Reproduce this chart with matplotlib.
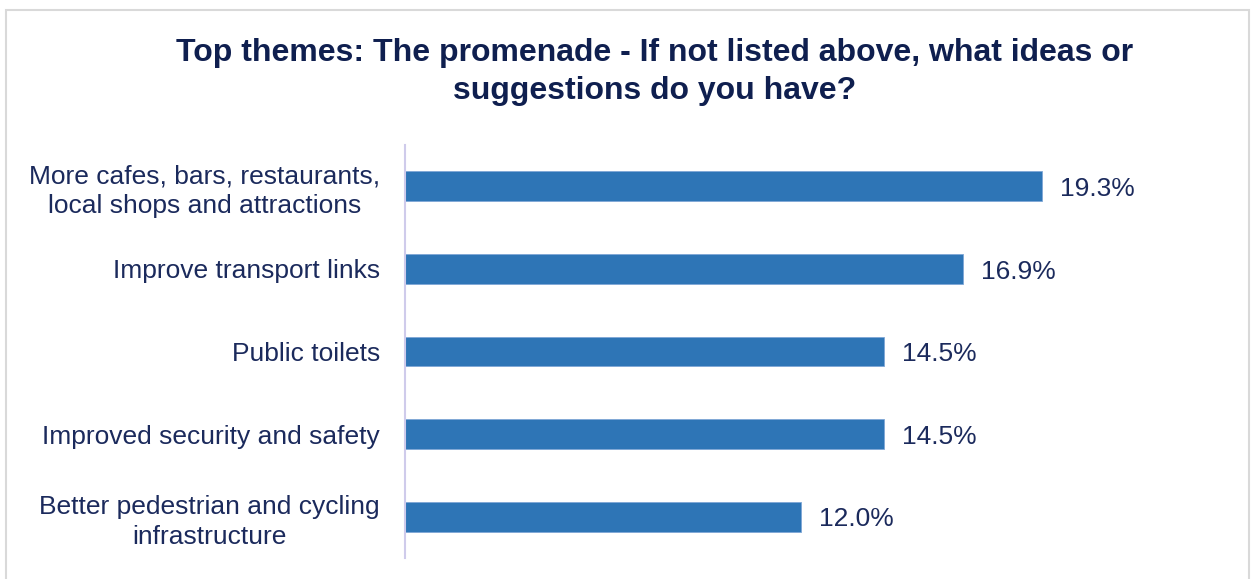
import matplotlib.pyplot as plt
from matplotlib.patches import Rectangle

plt.rcParams['font.family'] = ['Liberation Sans', 'DejaVu Sans']

themes = [
    "More cafes, bars, restaurants,\nlocal shops and attractions",
    "Improve transport links",
    "Public toilets",
    "Improved security and safety",
    "Better pedestrian and cycling\ninfrastructure",
]
shares = [19.3, 16.9, 14.5, 14.5, 12.0]

navy = '#1B2A5C'
bar_color = '#2E75B6'

W, H = 1255, 579
fig = plt.figure(figsize=(W / 100, H / 100), dpi=100)

# chart area border
fig.patches.append(Rectangle((6 / W, -0.01), 1243 / W, (H - 10) / H + 0.01,
                             transform=fig.transFigure, fill=False,
                             edgecolor='#D9D9D9', linewidth=1.5))

ax = fig.add_axes([405 / W, 1 - 558 / H, 840 / W, (558 - 145) / H])
pos = list(range(len(themes)))
ax.barh(pos, shares, height=0.36, color=bar_color, edgecolor='#7FA7D6', linewidth=0.6)
ax.set_ylim(len(themes) - 0.5, -0.5)
ax.set_xlim(0, 840 / 33)

for y, v in zip(pos, shares):
    ax.annotate(f"{v:.1f}%", (v, y), xytext=(13, -2), textcoords='offset points',
                va='center', ha='left', fontsize=19, color=navy)

ax.set_yticks(pos)
ax.set_yticklabels(themes, fontsize=19, color=navy, multialignment='center',
                   linespacing=1.3)
ax.tick_params(axis='y', length=0, pad=18)
ax.set_xticks([])
for s in ['top', 'right', 'bottom']:
    ax.spines[s].set_visible(False)
ax.spines['left'].set_color('#CFCBEB')
ax.spines['left'].set_linewidth(1.5)

fig.text(655 / W, 1 - 72 / H,
         "Top themes: The promenade - If not listed above, what ideas or\nsuggestions do you have?",
         ha='center', va='center', fontsize=23, fontweight='bold', color='#0F1F4F',
         linespacing=1.35)

fig.savefig('out.png', dpi=100)
